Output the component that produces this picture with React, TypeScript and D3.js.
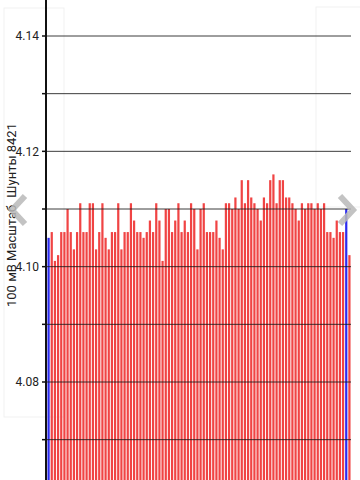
import React from "react";
import * as d3 from "d3";

const cellValues: number[] = [
  4.105, 4.106, 4.101, 4.102, 4.106, 4.106, 4.110, 4.106, 4.103, 4.106,
  4.111, 4.106, 4.106, 4.111, 4.111, 4.103, 4.106, 4.111, 4.105, 4.103,
  4.106, 4.106, 4.111, 4.103, 4.106, 4.106, 4.111, 4.108, 4.106, 4.106,
  4.105, 4.106, 4.108, 4.106, 4.111, 4.108, 4.101, 4.110, 4.110, 4.106,
  4.108, 4.111, 4.106, 4.108, 4.106, 4.111, 4.110, 4.103, 4.110, 4.111,
  4.106, 4.106, 4.106, 4.108, 4.105, 4.103, 4.111, 4.111, 4.110, 4.112,
  4.110, 4.115, 4.111, 4.115, 4.112, 4.111, 4.110, 4.108, 4.112, 4.111,
  4.115, 4.116, 4.111, 4.115, 4.115, 4.112, 4.112, 4.111, 4.110, 4.108,
  4.111, 4.110, 4.111, 4.111, 4.110, 4.111, 4.110, 4.111, 4.106, 4.106,
  4.105, 4.108, 4.106, 4.106, 4.110, 4.102,
];
const highlightedCells: number[] = [0, 94];
const gridValues: number[] = [4.07, 4.08, 4.09, 4.10, 4.11, 4.12, 4.13, 4.14];
const labelValues: number[] = [4.08, 4.10, 4.12, 4.14];
const axisTitleA = "100 мВ Масштаб";
const axisTitleB = "Шунты 8421";

const W = 360;
const H = 480;

export default function App() {
  const x = d3
    .scaleBand<number>()
    .domain(cellValues.map((_, i) => i))
    .range([47, 351])
    .paddingInner(0.3)
    .paddingOuter(0.15);
  const y = d3.scaleLinear().domain([4.08, 4.14]).range([382, 36]);
  const axisX = 46;
  const font = "Roboto, 'Noto Sans', sans-serif";

  return (
    <svg
      width={W}
      height={H}
      style={{ position: "absolute", left: 0, top: 0, background: "#fff" }}
    >
      {/* faint background panels */}
      <rect x={4} y={8} width={60} height={409} fill="none" stroke="#f1f1f1" strokeWidth={1} />
      <rect x={316} y={7} width={60} height={200} fill="none" stroke="#f1f1f1" strokeWidth={1} />

      {/* bars */}
      {cellValues.map((v, i) => (
        <rect
          key={i}
          x={x(i)}
          y={y(v)}
          width={x.bandwidth()}
          height={H - y(v)}
          fill={highlightedCells.includes(i) ? "#2b2bf0" : "#f04444"}
        />
      ))}

      {/* gridlines */}
      {gridValues.map((g) => (
        <line
          key={g}
          x1={axisX}
          x2={351}
          y1={y(g)}
          y2={y(g)}
          stroke="#1a1a1a"
          strokeOpacity={0.85}
          strokeWidth={1}
        />
      ))}

      {/* ticks */}
      {gridValues.map((g) => (
        <line
          key={"t" + g}
          x1={42}
          x2={axisX}
          y1={y(g)}
          y2={y(g)}
          stroke="#111"
          strokeWidth={1.5}
        />
      ))}

      {/* axis line */}
      <line x1={axisX} x2={axisX} y1={0} y2={H} stroke="#111" strokeWidth={2} />

      {/* tick labels */}
      {labelValues.map((g) => (
        <text
          key={"l" + g}
          x={39}
          y={y(g)}
          dy="0.35em"
          textAnchor="end"
          fontFamily={font}
          fontSize={12}
          fill="#222"
        >
          {d3.format(".2f")(g)}
        </text>
      ))}

      {/* axis title */}
      <text
        transform={`translate(15.5,307) rotate(-90)`}
        textAnchor="start"
        fontFamily={font}
        fontSize={13}
        fill="#222"
      >
        {axisTitleA}
      </text>
      <text
        transform={`translate(15.5,123) rotate(-90)`}
        textAnchor="end"
        fontFamily={font}
        fontSize={13}
        fill="#222"
      >
        {axisTitleB}
      </text>

      {/* navigation chevrons */}
      <polyline
        points="25,196 12,210 25,224"
        fill="none"
        stroke="#b8b8b8"
        strokeOpacity={0.85}
        strokeWidth={6}
      />
      <polyline
        points="340,196 353,210 340,224"
        fill="none"
        stroke="#b8b8b8"
        strokeOpacity={0.85}
        strokeWidth={6}
      />
    </svg>
  );
}
